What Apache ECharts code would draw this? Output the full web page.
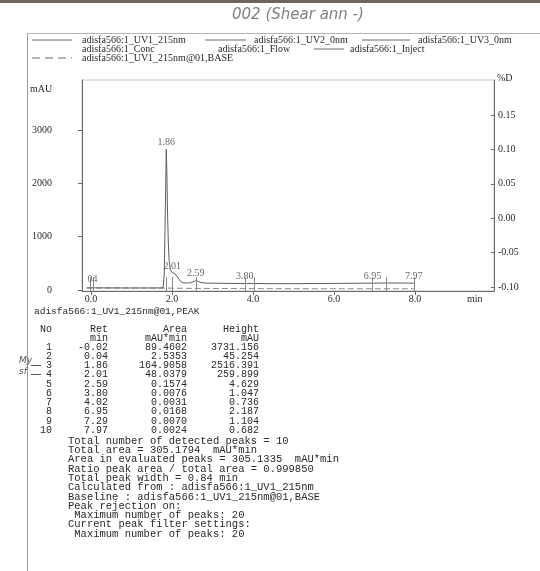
<!DOCTYPE html>
<html><head><meta charset="utf-8">
<script src="https://cdn.jsdelivr.net/npm/echarts@6/dist/echarts.min.js"></script>
<style>html,body{margin:0;padding:0;background:#fff}#c{width:540px;height:571px}</style>
</head><body><div id="c"></div>
<script>
// ---- data ----
const xTicks = [0, 2, 4, 6, 8];
const yLeftTicks = [0, 1000, 2000, 3000];
const yRightTicks = [-0.10, -0.05, 0.00, 0.05, 0.10, 0.15];

// UV1 215nm trace (min, mAU)
const traceTime = [-0.10, 0.00, 0.04, 0.08, 0.50, 1.00, 1.50, 1.78, 1.81, 1.835, 1.86, 1.875, 1.89, 1.91, 1.93, 1.96, 2.00, 2.03, 2.08, 2.14, 2.20, 2.27, 2.35, 2.45, 2.52, 2.59, 2.65, 2.72, 2.85, 3.20, 3.80, 4.02, 4.50, 5.00, 5.50, 6.00, 6.50, 6.95, 7.29, 7.60, 7.97];
const traceMAU  = [38, 40, 55, 40, 38, 37, 37, 38, 300, 1400, 2640, 2200, 1500, 900, 560, 380, 330, 320, 300, 240, 170, 135, 130, 132, 150, 175, 160, 138, 128, 124, 120, 120, 118, 118, 120, 122, 125, 128, 130, 130, 128];
// baseline (BASE) trace
const baseTime = [-0.10, 1.80, 2.30, 4.00, 6.00, 7.97];
const baseMAU  = [36, 36, 30, 24, 22, 22];

// peak table
const peakNo     = [1, 2, 3, 4, 5, 6, 7, 8, 9, 10];
const peakRet    = [-0.02, 0.04, 1.86, 2.01, 2.59, 3.80, 4.02, 6.95, 7.29, 7.97];
const peakArea   = [89.4602, 2.5353, 164.9058, 48.0379, 0.1574, 0.0076, 0.0031, 0.0168, 0.0070, 0.0024];
const peakHeight = [3731.156, 45.254, 2516.391, 259.899, 4.629, 1.047, 0.736, 2.187, 1.104, 0.682];

// peak labels drawn on the chromatogram
const labelRet  = [0.04, 1.86, 2.01, 2.59, 3.80, 6.95, 7.97];
const labelText = ['04', '1.86', '2.01', '2.59', '3.80', '6.95', '7.97'];
const labelMAU  = [60, 2640, 320, 175, 120, 128, 128];

const legendNames = ['adisfa566:1_UV1_215nm', 'adisfa566:1_UV2_0nm', 'adisfa566:1_UV3_0nm',
  'adisfa566:1_Conc', 'adisfa566:1_Flow', 'adisfa566:1_Inject', 'adisfa566:1_UV1_215nm@01,BASE'];

const summaryLines = [
  'Total number of detected peaks = 10',
  'Total area = 305.1794  mAU*min',
  'Area in evaluated peaks = 305.1335  mAU*min',
  'Ratio peak area / total area = 0.999850',
  'Total peak width = 0.84 min',
  'Calculated from : adisfa566:1_UV1_215nm',
  'Baseline : adisfa566:1_UV1_215nm@01,BASE',
  'Peak rejection on:',
  ' Maximum number of peaks: 20',
  'Current peak filter settings:',
  ' Maximum number of peaks: 20'
];

// ---- drawing ----
const SERIF = '"Liberation Serif", "DejaVu Serif", serif';
const MONO = '"Liberation Mono", "DejaVu Sans Mono", monospace';
const TXT = '#2a2a2a';
const LINE = '#6a6a6a';

const g = [];
function text(x, y, s, font, opt) {
  opt = opt || {};
  g.push({type: 'text', x: x, y: y, silent: true,
    style: {text: s, font: font, fill: opt.fill || TXT, align: opt.align || 'left', verticalAlign: 'middle'}});
}
function line(x1, y1, x2, y2, opt) {
  opt = opt || {};
  g.push({type: 'line', silent: true, shape: {x1: x1, y1: y1, x2: x2, y2: y2},
    style: {stroke: opt.stroke || LINE, lineWidth: opt.w || 1, lineDash: opt.dash || null}});
}

// scan edge and frame
g.push({type: 'rect', shape: {x: 0, y: 0, width: 540, height: 3}, style: {fill: '#6b6660'}, silent: true});
line(27.5, 33, 27.5, 571, {stroke: '#9a9a9a'});
line(27, 33.5, 540, 33.5, {stroke: '#b5b5b5'});

// handwritten note
text(232, 15, '002 (Shear ann -)', 'italic 15px "DejaVu Sans", sans-serif', {fill: '#808080'});

// legend
const LF = '10px ' + SERIF;
line(32, 40, 72, 40); text(82, 40, legendNames[0], LF);
line(205, 40, 246, 40); text(254, 40, legendNames[1], LF);
line(362, 40, 410, 40); text(418, 40, legendNames[2], LF);
text(82, 49, legendNames[3], LF);
text(218, 49, legendNames[4], LF);
line(314, 49, 344, 49); text(350, 49, legendNames[5], LF);
line(32, 58, 72, 58, {dash: [8, 5]}); text(82, 58, legendNames[6], LF);

// axis units
text(30, 89, 'mAU', '10px ' + SERIF);
text(497, 78, '%D', '10px ' + SERIF);
text(467, 299, 'min', '10px ' + SERIF);

// peak table
const TF = '10px ' + MONO;
text(34, 311, 'adisfa566:1_UV1_215nm@01,PEAK', '9.5px ' + MONO);
text(52, 329, 'No', TF, {align: 'right'});
text(108, 329, 'Ret', TF, {align: 'right'});
text(187, 329, 'Area', TF, {align: 'right'});
text(259, 329, 'Height', TF, {align: 'right'});
text(108, 338, 'min', TF, {align: 'right'});
text(187, 338, 'mAU*min', TF, {align: 'right'});
text(259, 338, 'mAU', TF, {align: 'right'});
for (let i = 0; i < peakNo.length; i++) {
  const y = 347 + i * 9.25;
  text(52, y, String(peakNo[i]), TF, {align: 'right'});
  text(108, y, peakRet[i].toFixed(2), TF, {align: 'right'});
  text(187, y, peakArea[i].toFixed(4), TF, {align: 'right'});
  text(259, y, peakHeight[i].toFixed(3), TF, {align: 'right'});
}
// handwritten marks beside rows 3 and 4
line(31, 365.5, 41, 365.5, {stroke: '#555'});
line(31, 374.5, 41, 374.5, {stroke: '#555'});
text(19, 361, 'My', 'italic 9px "DejaVu Sans", sans-serif', {fill: '#555'});
text(19, 372, 'sf', 'italic 9px "DejaVu Sans", sans-serif', {fill: '#555'});

// summary
const SF = '10.5px ' + MONO;
summaryLines.forEach((s, i) => text(68, 441 + i * 9.3, s, SF));

const chart = echarts.init(document.getElementById('c'), null, {renderer: 'canvas'});
chart.setOption({
  animation: false,
  backgroundColor: '#ffffff',
  grid: {left: 82, right: 46, top: 80, bottom: 280, show: true, borderColor: '#c4c4c4', borderWidth: 1, containLabel: false, outerBoundsMode: 'none'},
  xAxis: {
    type: 'value', min: -0.22, max: 9.95,
    axisLine: {show: true, onZero: false, lineStyle: {color: LINE, width: 1}},
    axisTick: {show: true, customValues: xTicks, length: 4, lineStyle: {color: LINE}},
    axisLabel: {customValues: xTicks, formatter: v => v.toFixed(1), margin: 3, color: TXT, fontFamily: SERIF, fontSize: 10},
    splitLine: {show: false}
  },
  yAxis: [{
    type: 'value', min: -20, max: 3940, position: 'left',
    axisLine: {show: true, onZero: false, lineStyle: {color: LINE, width: 1}},
    axisTick: {show: true, customValues: yLeftTicks, length: 4, lineStyle: {color: LINE}},
    axisLabel: {customValues: yLeftTicks, formatter: v => String(v), margin: 30, color: TXT, fontFamily: SERIF, fontSize: 10},
    splitLine: {show: false}
  }, {
    type: 'value', min: -0.106, max: 0.201, position: 'right',
    axisLine: {show: true, onZero: false, lineStyle: {color: LINE, width: 1}},
    axisTick: {show: true, inside: true, customValues: yRightTicks, length: 3, lineStyle: {color: LINE}},
    axisLabel: {customValues: yRightTicks, formatter: v => v.toFixed(2), margin: 4, color: TXT, fontFamily: SERIF, fontSize: 10},
    splitLine: {show: false}
  }],
  series: [{
    name: legendNames[6], type: 'line', data: baseTime.map((t, i) => [t, baseMAU[i]]),
    showSymbol: false, lineStyle: {color: '#8a8a8a', width: 1, type: [6, 3]}, silent: true, z: 2
  }, {
    name: legendNames[0], type: 'line', data: traceTime.map((t, i) => [t, traceMAU[i]]),
    showSymbol: false, lineStyle: {color: '#5e5e5e', width: 1}, silent: true, z: 3
  }, {
    name: 'peak marks', type: 'custom', data: peakRet.map(r => [r, 0]), encode: {x: 0, y: 1}, silent: true, z: 4,
    renderItem: function (params, api) {
      const p1 = api.coord([api.value(0), -20]);
      const p2 = api.coord([api.value(0), 240]);
      return {type: 'line', shape: {x1: Math.round(p1[0]) + 0.5, y1: p1[1], x2: Math.round(p1[0]) + 0.5, y2: p2[1]},
        style: {stroke: '#8a8a8a', lineWidth: 1}};
    }
  }, {
    name: 'peak labels', type: 'scatter', data: labelRet.map((t, i) => [t, labelMAU[i]]),
    symbolSize: 0, silent: true, z: 5,
    label: {show: true, position: 'top', distance: 2, color: '#444', fontFamily: SERIF, fontSize: 10,
      formatter: p => labelText[p.dataIndex]}
  }],
  graphic: g
});
</script>
</body></html>
